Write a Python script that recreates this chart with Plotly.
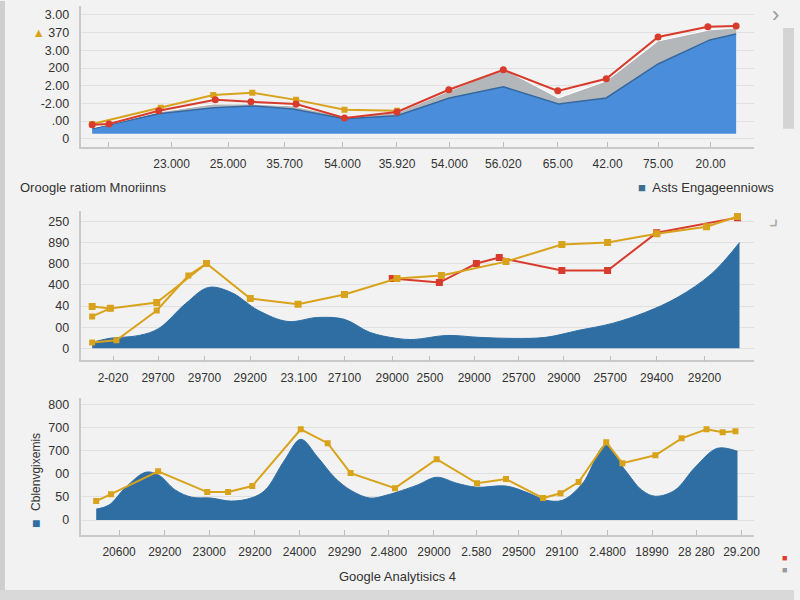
import plotly.graph_objects as go

# ---- panel 1 : stacked area with two lines ----
p1_x = [1.6, 4.1, 11.5, 19.6, 25.2, 31.4, 39.1, 46.9, 54.7, 62.7, 70.9, 78.0, 85.7, 93.4, 97.3]
p1_blue = [0.28, 0.51, 1.13, 1.47, 1.58, 1.41, 0.85, 1.02, 2.03, 2.66, 1.69, 2.03, 3.95, 5.31, 5.65]
p1_gray = [0.34, 0.54, 1.24, 1.69, 1.69, 1.58, 0.96, 1.19, 2.43, 3.67, 2.03, 2.99, 5.25, 5.88, 5.99]
p1_red_x = [1.6, 4.1, 11.5, 19.9, 25.2, 31.9, 39.1, 46.9, 54.6, 62.7, 70.8, 78.0, 85.7, 93.1, 97.3]
p1_red = [0.51, 0.56, 1.30, 1.92, 1.81, 1.69, 0.90, 1.24, 2.49, 3.62, 2.43, 3.11, 5.48, 6.05, 6.10]
p1_gold_x = [1.6, 11.8, 19.6, 25.4, 31.9, 39.1, 46.9]
p1_gold = [0.56, 1.47, 2.20, 2.32, 1.92, 1.36, 1.30]
p1_ticks = [4.1, 13.4, 21.8, 30.2, 38.8, 46.9, 54.7, 62.7, 70.8, 78.2, 85.7, 93.5]
p1_ticktext = ["", "23.000", "25.000", "35.700", "54.000", "35.920", "54.000",
               "56.020", "65.00", "42.00", "75.00", "20.00"]
p1_ylabels = ["0", ".00", "-2.00", "2.00", "200", "3.00",
              "<span style='color:#d9a21b'>▲</span> 370", "3.00"]

# ---- panel 2 : smooth area with gold / red lines ----
p2_x = [1.6, 4.1, 8.6, 11.5, 15.5, 18.9, 22.3, 26.3, 30.7, 35.1, 39.1, 42.9, 46.9,
        49.4, 54.3, 59.1, 64.2, 69.0, 73.9, 78.9, 83.8, 88.6, 93.7, 97.8]
p2_blue = [0.28, 0.47, 0.61, 0.94, 2.12, 2.88, 2.64, 1.79, 1.27, 1.46, 1.37, 0.75, 0.47,
           0.42, 0.61, 0.52, 0.47, 0.52, 0.85, 1.18, 1.70, 2.41, 3.54, 5.00]
p2_gold_x = [1.6, 4.3, 11.2, 18.6, 25.1, 32.2, 39.1, 46.9, 53.5, 63.1, 71.4, 78.2, 85.5, 92.9, 97.5]
p2_gold = [1.98, 1.89, 2.17, 4.01, 2.36, 2.08, 2.55, 3.30, 3.44, 4.10, 4.91, 5.00, 5.42, 5.75, 6.23]
p2_gold2_x = [1.6, 5.2, 11.2, 15.9, 18.6]
p2_gold2 = [0.28, 0.38, 1.79, 3.44, 4.01]
p2_gold3_x = [1.6, 4.3]
p2_gold3 = [1.51, 1.89]
p2_red_x = [46.2, 53.2, 58.7, 62.1, 71.4, 78.2, 85.5, 97.5]
p2_red = [3.30, 3.11, 4.01, 4.29, 3.68, 3.68, 5.47, 6.18]
p2_ticks = [4.7, 11.4, 18.3, 25.1, 32.3, 39.1, 46.2, 51.8, 58.4, 65.0, 71.7, 78.6, 85.5, 92.6]
p2_ticktext = ["2-020", "29700", "29700", "29200", "23.100", "27100", "29000", "2500",
               "29000", "25700", "29000", "25700", "29400", "29200"]
p2_ylabels = ["0", "00", "40", "400", "800", "890", "250"]

# ---- panel 3 : smooth area with gold line ----
p3_x = [2.2, 4.1, 6.6, 9.6, 11.5, 14.0, 16.4, 19.3, 22.3, 25.2, 27.3, 30.2, 32.6, 35.1,
        37.6, 40.0, 42.9, 45.4, 46.9, 49.9, 52.8, 55.8, 58.7, 63.1, 66.5, 69.0, 71.5,
        74.5, 77.9, 80.8, 83.3, 85.3, 88.2, 91.2, 94.5, 97.5]
p3_blue = [0.47, 0.65, 1.42, 2.07, 1.94, 1.29, 0.99, 0.95, 0.82, 0.95, 1.29, 2.59, 3.49,
           2.72, 1.85, 1.29, 0.95, 1.08, 1.21, 1.51, 1.85, 1.59, 1.42, 1.47, 1.16, 0.86,
           0.86, 1.59, 3.23, 2.16, 1.29, 1.03, 1.29, 2.28, 3.10, 2.97]
p3_gold_x = [2.2, 4.4, 11.4, 18.7, 21.8, 25.4, 32.6, 36.6, 40.0, 46.6, 52.8, 58.8, 63.1,
             68.6, 71.2, 73.9, 78.0, 80.4, 85.3, 89.2, 92.9, 95.3, 97.2]
p3_gold = [0.82, 1.12, 2.11, 1.21, 1.21, 1.47, 3.92, 3.32, 2.03, 1.38, 2.63, 1.59, 1.77,
           0.95, 1.16, 1.64, 3.36, 2.46, 2.80, 3.53, 3.92, 3.79, 3.84]
p3_ticks = [5.6, 12.4, 19.0, 25.8, 32.4, 39.1, 45.7, 52.4, 58.7, 65.0, 71.4, 78.2, 84.8, 91.4, 98.1]
p3_ticktext = ["20600", "29200", "23000", "29200", "24000", "29290", "2.4800", "29000",
               "2.580", "29500", "29100", "2.4800", "18990", "28 280", "29.200"]
p3_ylabels = ["0", "50", "00", "700", "700", "800"]

BLUE1 = "#4a8edb"
BLUE2 = "#2f6ea3"
GOLD = "#d9a21b"
RED = "#d83a2c"
GRAY = "#b3b7b9"
BG = "#f2f2f2"

fig = go.Figure()

# panel 1
fig.add_trace(go.Scatter(x=p1_x, y=p1_blue, mode="lines", fill="tozeroy",
                         fillcolor=BLUE1, line=dict(color="#35689f", width=1.5),
                         xaxis="x", yaxis="y"))
fig.add_trace(go.Scatter(x=p1_x, y=p1_gray, mode="lines", fill="tonexty",
                         fillcolor=GRAY, line=dict(color="#ffffff", width=1),
                         xaxis="x", yaxis="y"))
fig.add_trace(go.Scatter(x=p1_gold_x, y=p1_gold, mode="lines+markers",
                         line=dict(color=GOLD, width=2), marker=dict(symbol="square", size=6, color=GOLD),
                         xaxis="x", yaxis="y"))
fig.add_trace(go.Scatter(x=p1_red_x, y=p1_red, mode="lines+markers",
                         line=dict(color=RED, width=2), marker=dict(size=7, color=RED),
                         xaxis="x", yaxis="y"))

# panel 2
fig.add_trace(go.Scatter(x=p2_x, y=p2_blue, mode="lines", fill="tozeroy",
                         fillcolor=BLUE2, line=dict(color=BLUE2, width=1, shape="spline", smoothing=1.0),
                         xaxis="x2", yaxis="y2"))
for gx, gy in [(p2_gold2_x, p2_gold2), (p2_gold3_x, p2_gold3)]:
    fig.add_trace(go.Scatter(x=gx, y=gy, mode="lines+markers",
                             line=dict(color=GOLD, width=2),
                             marker=dict(symbol="square", size=6, color=GOLD),
                             xaxis="x2", yaxis="y2"))
fig.add_trace(go.Scatter(x=p2_red_x, y=p2_red, mode="lines+markers",
                         line=dict(color=RED, width=2), marker=dict(symbol="square", size=7, color=RED),
                         xaxis="x2", yaxis="y2"))
fig.add_trace(go.Scatter(x=p2_gold_x, y=p2_gold, mode="lines+markers",
                         line=dict(color=GOLD, width=2), marker=dict(symbol="square", size=7, color=GOLD),
                         xaxis="x2", yaxis="y2"))

# panel 3
fig.add_trace(go.Scatter(x=p3_x, y=p3_blue, mode="lines", fill="tozeroy",
                         fillcolor=BLUE2, line=dict(color=BLUE2, width=1, shape="spline", smoothing=1.0),
                         xaxis="x3", yaxis="y3"))
fig.add_trace(go.Scatter(x=p3_gold_x, y=p3_gold, mode="lines+markers",
                         line=dict(color=GOLD, width=2), marker=dict(symbol="square", size=6, color=GOLD),
                         xaxis="x3", yaxis="y3"))

fig.update_traces(showlegend=False, hoverinfo="skip")

xcommon = dict(range=[0, 100], showline=True, linecolor="#c9c9c9", linewidth=1.5,
               showgrid=False, zeroline=False, ticks="inside", ticklen=5,
               tickcolor="#bdbdbd", tickfont=dict(size=12, color="#333"),
               ticklabelstandoff=5, domain=[0.1025, 0.95], tickmode="array")
ycommon = dict(showline=True, linecolor="#c9c9c9", linewidth=1.5, showgrid=True,
               gridcolor="#e0e0e0", zeroline=False, ticks="", tickfont=dict(size=12.5, color="#333"),
               ticklabelstandoff=8, tickmode="array")

fig.update_layout(
    width=800, height=600,
    margin=dict(l=0, r=0, t=0, b=0),
    paper_bgcolor=BG, plot_bgcolor=BG,
    font=dict(family="Liberation Sans, Arial, sans-serif", color="#333"),
    xaxis=dict(xcommon, anchor="y", tickvals=p1_ticks, ticktext=p1_ticktext),
    yaxis=dict(ycommon, anchor="x", domain=[0.7567, 0.9917], range=[-0.73, 7.23],
               tickvals=[k - 0.28 for k in range(8)], ticktext=p1_ylabels),
    xaxis2=dict(xcommon, anchor="y2", tickvals=p2_ticks, ticktext=p2_ticktext),
    yaxis2=dict(ycommon, anchor="x2", domain=[0.4, 0.65], range=[-0.57, 6.51],
                tickvals=list(range(7)), ticktext=p2_ylabels),
    xaxis3=dict(xcommon, anchor="y3", tickvals=p3_ticks, ticktext=p3_ticktext),
    yaxis3=dict(ycommon, anchor="x3", domain=[0.1083, 0.3367], range=[-0.65, 5.26],
                tickvals=list(range(6)), ticktext=p3_ylabels),
)

ann = [
    dict(x=18 / 800, y=1 - 187 / 600, text="Oroogle ratiom Mnoriinns", xanchor="left",
         font=dict(size=13, color="#333")),
    dict(x=782 / 800, y=1 - 187 / 600, xanchor="right",
         text="<span style='color:#3d6e8f'>■</span>  Asts Engageenniows",
         font=dict(size=13, color="#333")),
    dict(x=400 / 800, y=1 - 576 / 600, text="Google Analytisics 4",
         font=dict(size=13, color="#333")),
    dict(x=36 / 800, y=1 - 472 / 600, text="Cblenvgixemis", textangle=-90,
         font=dict(size=12, color="#333")),
    dict(x=36 / 800, y=1 - 523 / 600, text="■", font=dict(size=14, color=BLUE2)),
    dict(x=781 / 800, y=1 - 14 / 600, text="›", font=dict(size=22, color="#999")),
    dict(x=781 / 800, y=1 - 222 / 600, text="›", textangle=45, font=dict(size=22, color="#aaa")),
    dict(x=790 / 800, y=1 - 558 / 600, text="■", font=dict(size=9, color="#e03a2a")),
    dict(x=790 / 800, y=1 - 570 / 600, text="■", font=dict(size=9, color="#999")),
]
for a in ann:
    a.setdefault("xanchor", "center")
    a.update(xref="paper", yref="paper", showarrow=False, yanchor="middle")
fig.update_layout(annotations=ann)

fig.update_layout(shapes=[
    dict(type="rect", xref="paper", yref="paper", x0=0, x1=5 / 800, y0=0, y1=1,
         fillcolor="#cfcfcf", line_width=0),
    dict(type="rect", xref="paper", yref="paper", x0=0, x1=1, y0=0, y1=10 / 600,
         fillcolor="#d9d9d9", line_width=0),
    dict(type="rect", xref="paper", yref="paper", x0=789 / 800, x1=1,
         y0=1 - 128 / 600, y1=1 - 27 / 600, fillcolor="#d4d4d4", line_width=0),
])

# page body has a default margin; drop it so the figure fills the window
fig.write_html("out.html", config={"displayModeBar": False},
               post_script="document.body.style.margin='0px';")
